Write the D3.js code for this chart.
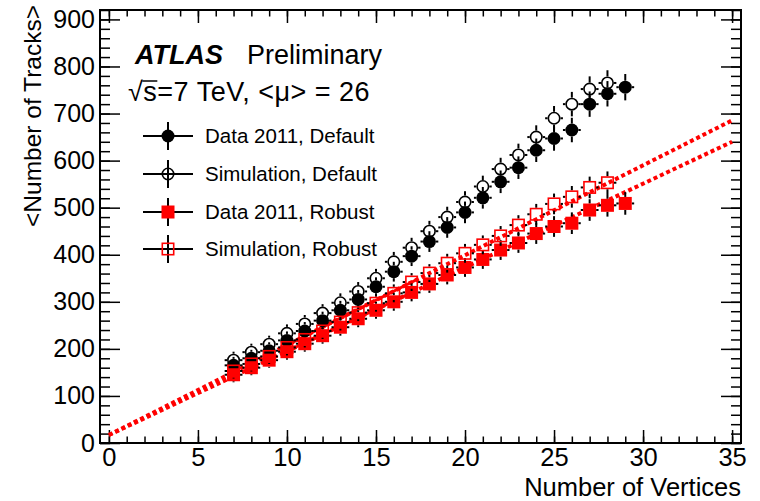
<!DOCTYPE html>
<html lang="en">
<head>
  <meta charset="UTF-8">
  <title>Number of Tracks vs Number of Vertices</title>
  <script src="https://d3js.org/d3.v7.min.js"></script>
  <style>
    body { margin: 0; background: #fff; }
    text { font-family: "Liberation Sans", Arial, Helvetica, sans-serif; fill: #000; }
  </style>
</head>
<body>
  <svg id="chart" width="760" height="501"></svg>
  <script>
    // values
    let nvtxData = [7, 8, 9, 10, 11, 12, 13, 14, 15, 16, 17, 18, 19, 20, 21, 22, 23, 24, 25, 26, 27, 28, 29];
    let nvtxSim = [7, 8, 9, 10, 11, 12, 13, 14, 15, 16, 17, 18, 19, 20, 21, 22, 23, 24, 25, 26, 27, 28];

    let dataDefault = [165, 180, 196, 218, 238, 260, 282, 305, 332, 364, 397, 428, 458, 490, 521, 555, 585, 622, 647, 665, 720, 742, 756];
    let dataDefaultErr = [18, 18, 18, 19, 19, 19, 20, 20, 20, 21, 21, 22, 22, 23, 23, 24, 24, 25, 26, 26, 27, 27, 28];
    let simDefault = [176, 193, 210, 233, 253, 276, 298, 322, 350, 385, 415, 450, 480, 512, 545, 582, 612, 650, 690, 720, 752, 765];
    let simDefaultErr = [18, 18, 18, 19, 19, 19, 20, 20, 20, 21, 21, 22, 22, 23, 23, 24, 24, 25, 26, 26, 27, 27];
    let dataRobust = [145, 160, 176, 194, 211, 228, 246, 264, 282, 300, 320, 338, 357, 373, 390, 410, 425, 445, 460, 467, 495, 505, 509];
    let dataRobustErr = [16, 16, 16, 17, 17, 17, 18, 18, 18, 19, 19, 19, 20, 20, 20, 21, 21, 22, 22, 23, 23, 24, 24];
    let simRobust = [153, 168, 184, 203, 220, 238, 257, 277, 297, 318, 342, 361, 382, 403, 421, 440, 463, 486, 508, 523, 543, 553];
    let simRobustErr = [16, 16, 16, 17, 17, 17, 18, 18, 18, 19, 19, 19, 20, 20, 20, 21, 21, 22, 22, 23, 23, 24];

    // straight-line fits to the robust points (solid in the fit range, dotted outside)
    let fitIntercept = [17, 17];
    let fitSlope = [19.1, 17.8];
    let fitRange = [9.7, 17.3];

    let xTicks = [0, 5, 10, 15, 20, 25, 30, 35];
    let yTicks = [0, 100, 200, 300, 400, 500, 600, 700, 800, 900];

    let legendLabels = ['Data 2011, Default', 'Simulation, Default', 'Data 2011, Robust', 'Simulation, Robust'];

    let svg = d3.select('#chart');
    let frameL = 100, frameR = 741, frameT = 10, frameB = 443;

    let x = d3.scaleLinear().domain([-0.5, 35.5]).range([frameL, frameR]);
    let y = d3.scaleLinear().domain([0, 920]).range([frameB, frameT]);

    // ---- axes, ticks point into the frame like ROOT does
    function styleAxis(g) {
      g.select('.domain').remove();
      g.selectAll('line').attr('stroke', '#000').attr('stroke-width', 1.5);
    }
    let xMinor = d3.range(0, 36, 1);
    let yMinor = d3.range(0, 921, 20);

    svg.append('g').attr('transform', 'translate(0,' + frameB + ')')
      .call(d3.axisBottom(x).tickValues(xMinor).tickSize(-6.5).tickFormat(''))
      .call(styleAxis);
    svg.append('g').attr('transform', 'translate(0,' + frameB + ')')
      .call(d3.axisBottom(x).tickValues(xTicks).tickSize(-13).tickPadding(5))
      .call(styleAxis)
      .selectAll('text').attr('font-size', 25.5).style('font-family', '"Liberation Sans", Arial, sans-serif');
    svg.append('g').attr('transform', 'translate(0,' + frameT + ')')
      .call(d3.axisTop(x).tickValues(xMinor).tickSize(-6.5).tickFormat(''))
      .call(styleAxis);
    svg.append('g').attr('transform', 'translate(0,' + frameT + ')')
      .call(d3.axisTop(x).tickValues(xTicks).tickSize(-13).tickFormat(''))
      .call(styleAxis);

    svg.append('g').attr('transform', 'translate(' + frameL + ',0)')
      .call(d3.axisLeft(y).tickValues(yMinor).tickSize(-10).tickFormat(''))
      .call(styleAxis);
    svg.append('g').attr('transform', 'translate(' + frameL + ',0)')
      .call(d3.axisLeft(y).tickValues(yTicks).tickSize(-20).tickPadding(5))
      .call(styleAxis)
      .selectAll('text').attr('font-size', 25).style('font-family', '"Liberation Sans", Arial, sans-serif');
    svg.append('g').attr('transform', 'translate(' + frameR + ',0)')
      .call(d3.axisRight(y).tickValues(yMinor).tickSize(-10).tickFormat(''))
      .call(styleAxis);
    svg.append('g').attr('transform', 'translate(' + frameR + ',0)')
      .call(d3.axisRight(y).tickValues(yTicks).tickSize(-20).tickFormat(''))
      .call(styleAxis);

    svg.append('rect')
      .attr('x', frameL).attr('y', frameT)
      .attr('width', frameR - frameL).attr('height', frameB - frameT)
      .attr('fill', 'none').attr('stroke', '#000').attr('stroke-width', 2);

    svg.append('text')
      .attr('x', frameR).attr('y', 496)
      .attr('text-anchor', 'end').attr('font-size', 25.5)
      .text('Number of Vertices');
    svg.append('text')
      .attr('transform', 'translate(41,5) rotate(-90)')
      .attr('text-anchor', 'end').attr('font-size', 24.5)
      .text('<Number of Tracks>');

    // ---- fit lines
    let plot = svg.append('g');
    fitSlope.forEach(function (s, i) {
      let a = fitIntercept[i];
      plot.append('line')
        .attr('x1', x(0)).attr('y1', y(a))
        .attr('x2', x(35)).attr('y2', y(a + s * 35))
        .attr('stroke', '#ff0000').attr('stroke-width', 4)
        .attr('stroke-dasharray', '4,3');
      plot.append('line')
        .attr('x1', x(fitRange[0])).attr('y1', y(a + s * fitRange[0]))
        .attr('x2', x(fitRange[1])).attr('y2', y(a + s * fitRange[1]))
        .attr('stroke', '#ff0000').attr('stroke-width', 3);
    });

    // ---- points with error bars
    let series = [
      { xs: nvtxData, ys: dataDefault, err: dataDefaultErr, shape: 'circle', filled: true, color: '#000' },
      { xs: nvtxSim, ys: simDefault, err: simDefaultErr, shape: 'circle', filled: false, color: '#000' },
      { xs: nvtxData, ys: dataRobust, err: dataRobustErr, shape: 'square', filled: true, color: '#ff0000' },
      { xs: nvtxSim, ys: simRobust, err: simRobustErr, shape: 'square', filled: false, color: '#ff0000' }
    ];
    let r = 6.5;

    function drawMarker(g, s, cx, cy) {
      if (s.shape === 'circle') {
        g.append('circle')
          .attr('cx', cx).attr('cy', cy).attr('r', s.filled ? r : r - 0.8)
          .attr('fill', s.filled ? s.color : 'none')
          .attr('stroke', s.color).attr('stroke-width', s.filled ? 0 : 1.6);
      } else {
        let h = s.filled ? r : r - 0.8;
        g.append('rect')
          .attr('x', cx - h).attr('y', cy - h)
          .attr('width', 2 * h).attr('height', 2 * h)
          .attr('fill', s.filled ? s.color : 'none')
          .attr('stroke', s.color).attr('stroke-width', s.filled ? 0 : 1.6);
      }
    }

    series.forEach(function (s) {
      let g = plot.append('g');
      s.xs.forEach(function (v, i) {
        let cx = x(v), cy = y(s.ys[i]);
        let yHi = y(s.ys[i] + s.err[i]), yLo = y(s.ys[i] - s.err[i]);
        let xL = x(v - 0.5), xR = x(v + 0.5);
        let segs = [[cx, yHi, cx, cy - r], [cx, cy + r, cx, yLo], [xL, cy, cx - r, cy], [cx + r, cy, xR, cy]];
        segs.forEach(function (p) {
          g.append('line')
            .attr('x1', p[0]).attr('y1', p[1]).attr('x2', p[2]).attr('y2', p[3])
            .attr('stroke', '#000').attr('stroke-width', 2);
        });
        drawMarker(g, s, cx, cy);
      });
    });

    // ---- labels and legend
    let ann = svg.append('g');
    ann.append('text').attr('x', 135).attr('y', 64)
      .attr('font-size', 27).attr('font-weight', 'bold').attr('font-style', 'italic')
      .text('ATLAS');
    ann.append('text').attr('x', 247).attr('y', 64)
      .attr('font-size', 27)
      .text('Preliminary');

    let energy = ann.append('text').attr('x', 128).attr('y', 101)
      .attr('font-size', 27).attr('letter-spacing', 0.5);
    energy.append('tspan').text('\u221A');
    energy.append('tspan').text('s');
    energy.append('tspan').text('=7 TeV, <');
    energy.append('tspan').text('\u03BC');
    energy.append('tspan').text('> = 26');
    let sqrtW = energy.node().getSubStringLength(0, 1);
    let sW = energy.node().getSubStringLength(1, 1);
    ann.append('line')
      .attr('x1', 128 + sqrtW - 1).attr('x2', 128 + sqrtW + sW)
      .attr('y1', 81).attr('y2', 81)
      .attr('stroke', '#000').attr('stroke-width', 1.5);

    let legendY = [136, 174, 212, 249];
    legendLabels.forEach(function (label, i) {
      let g = ann.append('g');
      let cy = legendY[i];
      g.append('line').attr('x1', 143).attr('x2', 193).attr('y1', cy).attr('y2', cy)
        .attr('stroke', '#000').attr('stroke-width', 2);
      g.append('line').attr('x1', 168).attr('x2', 168).attr('y1', cy - 14).attr('y2', cy + 14)
        .attr('stroke', '#000').attr('stroke-width', 2);
      drawMarker(g, series[i], 168, cy);
      g.append('text').attr('x', 205).attr('y', cy + 7)
        .attr('font-size', 20.5)
        .text(label);
    });
  </script>
</body>
</html>
